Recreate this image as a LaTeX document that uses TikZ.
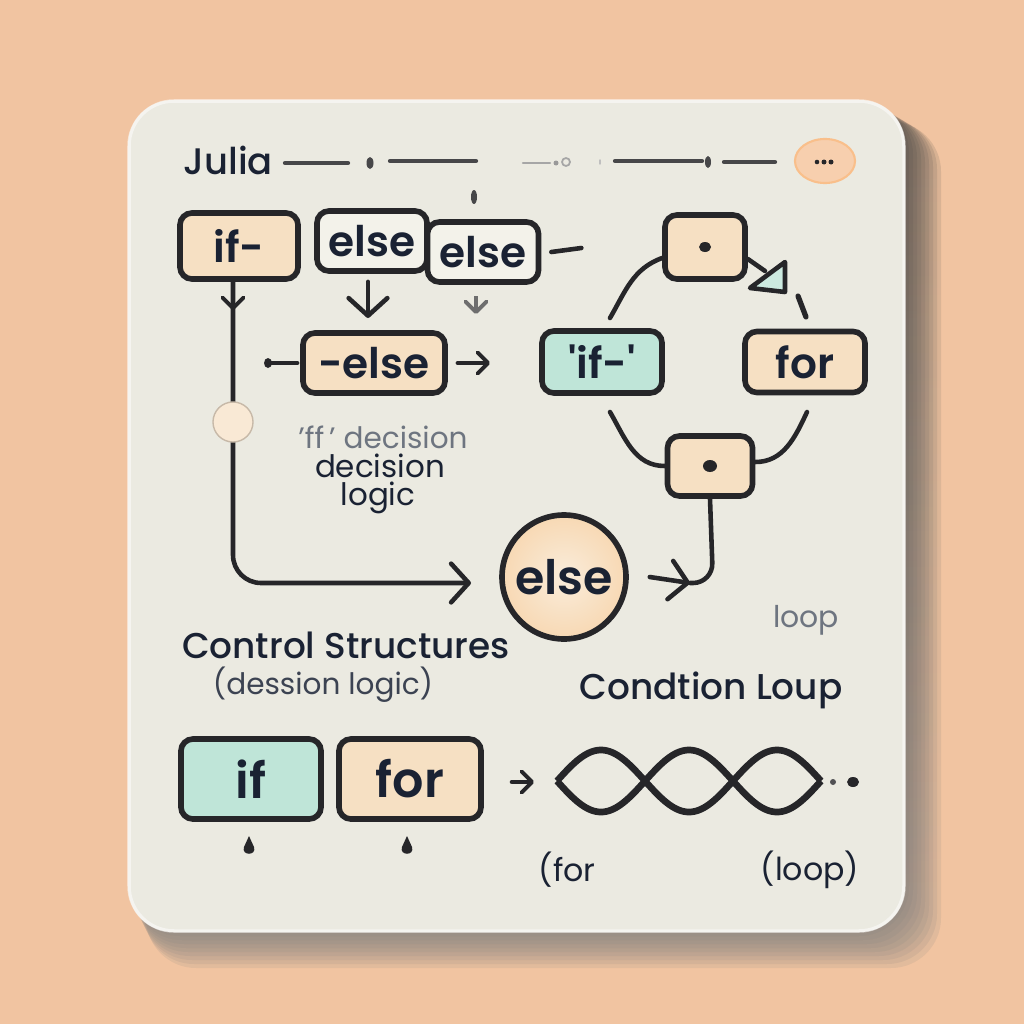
\documentclass[tikz,border=0pt]{standalone}
\usepackage{fontspec}
\setmainfont{Poppins}
\newfontfamily\popm{Poppins Medium}
\newfontfamily\pops{Poppins SemiBold}
\usetikzlibrary{arrows.meta,calc,shapes.geometric}
\definecolor{bg}{HTML}{F1C4A1}
\definecolor{shade}{HTML}{D99E7A}
\definecolor{card}{HTML}{EBEAE1}
\definecolor{ink}{HTML}{262629}
\definecolor{txt}{HTML}{1A2233}
\definecolor{peach}{HTML}{F6E0C3}
\definecolor{teal}{HTML}{BFE5D8}
\definecolor{pale}{HTML}{F3F2EA}
\definecolor{gtxt}{HTML}{6E7580}
\definecolor{oval}{HTML}{F7CFAE}
\tikzset{
  box/.style={draw=ink, line width=1.6pt, rounded corners=0.12cm, inner sep=0pt, text=txt, font=\pops\fontsize{12pt}{14pt}\selectfont},
  conn/.style={draw=ink, line width=1.3pt, line cap=round, line join=round},
  thin/.style={draw=ink!85, line width=1.2pt, line cap=round},
  chev/.style={-{Straight Barb[length=5pt,width=11pt,line width=1.3pt,round]}},
  smallchev/.style={-{Straight Barb[length=3pt,width=6pt,line width=1.1pt,round]}},
  lbl/.style={text=txt, inner sep=0pt}
}
\begin{document}
\begin{tikzpicture}[x=0.01cm,y=-0.01cm]
\fill[bg] (0,0) rectangle (1024,1024);
\useasboundingbox (0,0) rectangle (1024,1024);
% shadow
\foreach \d in {36,32,...,4}{
  \fill[shade,opacity=0.07,rounded corners=0.5cm] (128+\d*0.5,100+\d*0.6) rectangle (905+\d,932+\d);
}
% card
\fill[card,rounded corners=0.45cm] (128,100) rectangle (905,932);
\draw[white,opacity=0.5,line width=1pt,rounded corners=0.45cm] (129,101) rectangle (904,931);

% header
\node[lbl,font=\popm\fontsize{10.5pt}{12pt}\selectfont,anchor=west] (julia) at (183,160) {Julia};
\draw[thin] (285,163) -- (348,163);
\fill[ink!85] (370,163) ellipse (3.5 and 6);
\draw[thin] (390,161) -- (476,161);
\draw[gray!70,line width=0.7pt,line cap=round] (523,163) -- (550,163);
\fill[gray!80] (556,163) circle (2.5);
\draw[gray!70,line width=0.5pt] (566,162) circle (4);
\fill[gray!50] (600,162) ellipse (1 and 3);
\draw[thin] (615,161) -- (702,161);
\fill[ink!85] (708,162) ellipse (3 and 6);
\draw[thin] (724,162) -- (775,162);
\node[draw=oval!80!orange,fill=oval,ellipse,minimum width=0.6cm,minimum height=0.44cm,line width=0.6pt] (ov) at (825,161) {};
\fill[ink] (817,162) circle (2.3) (824,162) circle (2.5) (831,162) circle (2.5);
\fill[ink!85] (474,197) ellipse (3 and 7);

% top-left boxes
\node[box,fill=peach,minimum width=1.18cm,minimum height=0.66cm] (ifA) at (239,246) {if-};
\node[box,fill=pale,minimum width=1.1cm,minimum height=0.6cm] (elseA) at (372,241) {else};
\node[box,fill=pale,minimum width=1.11cm,minimum height=0.6cm] (elseB) at (483,252) {else};
\draw[conn] ([xshift=0.1cm]elseB.east) -- ++(30,-4);

% arrows down
\draw[conn,chev] (elseA.south) ++(-4,8) -- (368,318);
\draw[gray!80!ink,line width=1pt,smallchev] (476,296) -- (476,314);

% -else box
\node[box,fill=peach,minimum width=1.42cm,minimum height=0.6cm] (elseC) at (374,363) {-else};
\draw[conn] ([xshift=-0.03cm]elseC.west) -- (270,363);
\fill[ink] (268,363) ellipse (4 and 5);
\draw[conn,smallchev] ([xshift=0.1cm]elseC.east) -- (490,363);

% if- long connector
\node[draw=none,inner sep=0pt,minimum size=1.24cm,circle,inner color=peach!60!white,outer color=peach!90!orange!95!white] (elseD) at (564,577) {};
\draw[draw=ink,line width=1.6pt] (elseD) circle (62);
\node[lbl,font=\pops\fontsize{13.5pt}{15pt}\selectfont] at (elseD) {else};
\draw[conn,rounded corners=0.28cm,chev] ([xshift=-0.06cm]ifA.south) -- (233,583) -- (471,583);
\draw[conn,smallchev] (233,288) -- (233,310);
\node[circle,fill=peach!70!white,draw=peach!60!gray,line width=0.4pt,minimum size=0.4cm,inner sep=0pt] (knob) at (233,422) {};

% decision labels
\node[lbl,text=gtxt,font=\fontsize{8.4pt}{10pt}\selectfont] (t1) at (383,437) {'ff\,' decision};
\node[lbl,font=\fontsize{8.8pt}{10pt}\selectfont] (t2) at (380,466) {decision};
\node[lbl,font=\fontsize{8.8pt}{10pt}\selectfont] (t3) at (378,498) {logic};

% loop cluster
\node[box,fill=peach,minimum width=0.8cm,minimum height=0.64cm] (loopT) at (705,247) {};
\fill[ink] (loopT) ellipse (6 and 5);
\node[box,fill=teal,minimum width=1.2cm,minimum height=0.62cm] (ifL) at (602,362) {'if-'};
\node[box,fill=peach,minimum width=1.2cm,minimum height=0.61cm] (forR) at (805,362) {for};
\node[box,fill=peach,minimum width=0.85cm,minimum height=0.6cm] (loopB) at (710,466) {};
\fill[ink] (loopB) ellipse (7 and 6);
\coordinate (a1) at (610,318);
\coordinate (a2) at (610,412);
\coordinate (a3) at (807,412);
\draw[conn] (loopT.west |- 0,258) to[out=200,in=60] (a1);
\draw[conn] (a2) to[out=-60,in=180] (loopB.west |- 0,466);
\draw[conn] (a3) to[out=-115,in=0] (loopB.east |- 0,462);
\draw[conn] (loopT.east |- 0,259) -- (765,271);
\draw[conn,fill=teal!80] (750,288) -- (785,262) -- (785,292) -- cycle;
\draw[conn,line width=1.5pt] (798,296) -- (806,317);

% else circle to loop bottom
\draw[conn,rounded corners=0.2cm] (loopB.south) -- (713,583) -- (690,583);
\draw[conn,chev] ([xshift=0.23cm]elseD.east) -- (690,583);

% labels
\node[lbl,text=gtxt,font=\fontsize{8.5pt}{10pt}\selectfont] (loopt) at (806,620) {loop};
\node[lbl,font=\popm\fontsize{10.2pt}{12pt}\selectfont] (cs) at (346,645) {Control Structures};
\node[lbl,text=txt!85,font=\fontsize{8.4pt}{10pt}\selectfont] (dl) at (323,685) {(dession logic)};
\node[lbl,font=\popm\fontsize{10.2pt}{12pt}\selectfont] (cl) at (711,690) {Condtion Loup};

% bottom row
\node[box,fill=teal,minimum width=1.4cm,minimum height=0.8cm,font=\pops\fontsize{14pt}{16pt}\selectfont] (ifB) at (251,779) {if};
\node[box,fill=peach,minimum width=1.42cm,minimum height=0.8cm,font=\pops\fontsize{14pt}{16pt}\selectfont] (forB) at (410,779) {for};
\fill[ink] (249,836) -- (254,847) .. controls (257,856) and (241,856) .. (244,847) -- cycle;
\fill[ink] (407,836) -- (412,847) .. controls (415,856) and (399,856) .. (402,847) -- cycle;
\draw[conn,smallchev] (512,782) -- (534,782);
\draw[ink,line width=1.9pt] plot[domain=0:264,samples=133] ({557+\x},{781-31*abs(sin(\x/88*180))});
\draw[ink,line width=1.9pt] plot[domain=0:264,samples=133] ({557+\x},{781+31*abs(sin(\x/88*180))});
\fill[ink!80] (833,782) circle (3);
\fill[ink] (853,782) ellipse (6 and 5);
\node[lbl,font=\fontsize{9pt}{11pt}\selectfont,anchor=west] (fr) at (538,870) {(for};
\node[lbl,font=\fontsize{9pt}{11pt}\selectfont] (lp) at (810,870) {(loop)};
\end{tikzpicture}
\end{document}
